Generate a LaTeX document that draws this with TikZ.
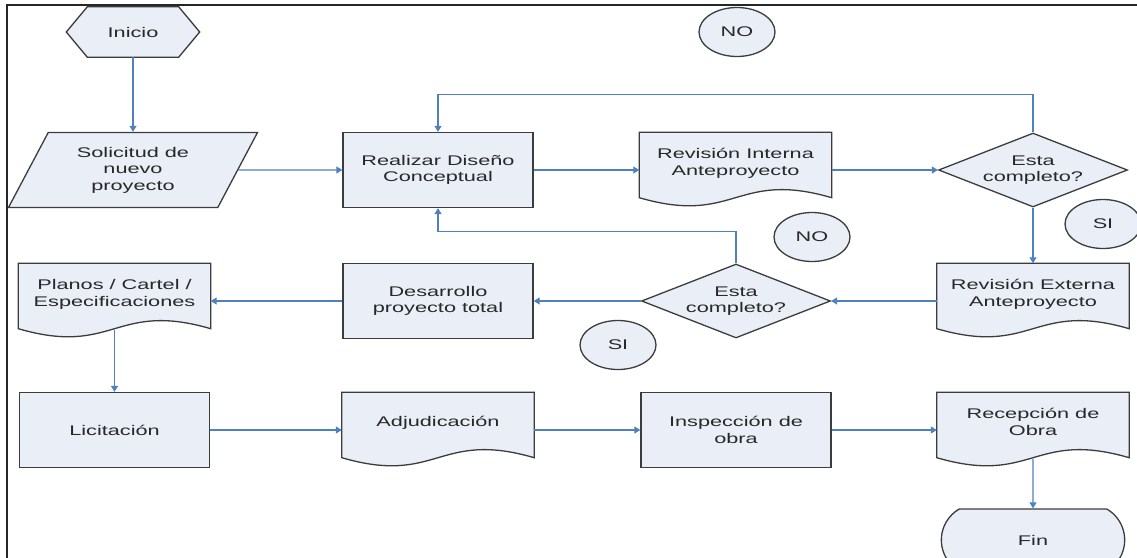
\documentclass[tikz,border=0pt]{standalone}
\usepackage{fontspec}
\setmainfont{Liberation Sans}[FakeStretch=1.55]
\usetikzlibrary{shapes.geometric,shapes.misc,arrows.meta,backgrounds}
\definecolor{boxfill}{RGB}{233,238,247}
\definecolor{boxline}{RGB}{60,60,60}
\definecolor{flowblue}{RGB}{79,129,189}
\definecolor{textgray}{RGB}{40,40,40}
\newcommand\docpath[1]{(#1.north west) -- (#1.north east) -- ([yshift=10pt]#1.south east)
  .. controls +(-96pt,28pt) and +(96pt,-28pt) .. ([yshift=10pt]#1.south west) -- cycle}
\newcommand\hexpath[1]{([xshift=21pt]#1.north west) -- ([xshift=-21pt]#1.north east) -- (#1.east)
  -- ([xshift=-21pt]#1.south east) -- ([xshift=21pt]#1.south west) -- (#1.west) -- cycle}
\begin{document}
\begin{tikzpicture}[x=1pt,y=-1pt,
    every node/.style={text=textgray,font=\fontsize{14}{16.5}\selectfont,align=center},
    shapeline/.style={draw=boxline,fill=boxfill,line width=1.3pt},
    box/.style={shapeline,minimum width=190pt,minimum height=75pt},
    doc/.style={minimum width=192pt,minimum height=75pt},
    startnode/.style={minimum width=133pt,minimum height=50pt},
    decision/.style={shapeline,diamond,aspect=2.5,inner sep=0pt,minimum width=189pt,minimum height=74pt},
    input/.style={shapeline,trapezium,trapezium left angle=53,trapezium right angle=127,
      trapezium stretches body,minimum width=249pt,minimum height=75pt},
    answer/.style={shapeline,ellipse,minimum width=76pt,minimum height=49pt},
    endnode/.style={shapeline,rounded rectangle,rounded rectangle arc length=120,
      minimum width=190pt,minimum height=62pt},
    flow/.style={draw=flowblue,line width=1.2pt,-{Triangle[length=6pt,width=7pt]}},
    frame/.style={line width=2pt,draw=black!85}]
  \useasboundingbox (0,0) rectangle (1137,557);
  \clip (0,0) rectangle (1137,557);
  \draw[frame] (7,560) -- (7,5) -- (1140,5);
  \path
    (133,32) node[startnode] (0) {Inicio}
    (133,170) node[input] (1) {Solicitud de\\nuevo\\proyecto}
    (438,170) node[box] (2) {Realizar Diseño\\Conceptual}
    (735.5,170) node[doc] (3) {Revisión Interna\\Anteproyecto\\\mbox{}}
    (1033,170) node[decision] (4) {Esta\\completo?}
    (1033,301) node[doc] (5) {Revisión Externa\\Anteproyecto\\\mbox{}}
    (736,301) node[decision] (6) {Esta\\completo?}
    (438,301) node[box] (7) {Desarrollo\\proyecto total}
    (114.5,301) node[doc] (8) {Planos / Cartel /\\Especificaciones\\\mbox{}}
    (114.5,430) node[box] (9) {Licitación}
    (438,430) node[doc] (10) {Adjudicación\\\mbox{}}
    (736,430) node[box] (11) {Inspección de\\obra}
    (1033,430) node[doc] (12) {Recepción de\\Obra\\\mbox{}}
    (1033,540) node[endnode] (13) {Fin}
    (737,32) node[answer] (14) {NO}
    (1103,224) node[answer] (15) {SI}
    (812,237) node[answer] (16) {NO}
    (618,345) node[answer] (17) {SI};
  \begin{scope}[on background layer]
    \draw[shapeline] \hexpath{0};
    \draw[shapeline] \docpath{3};
    \draw[shapeline] \docpath{5};
    \draw[shapeline] \docpath{8};
    \draw[shapeline] \docpath{10};
    \draw[shapeline] \docpath{12};
  \end{scope}
  \begin{scope}[flow]
    \draw (0) to (1);
    \draw (1) to (2);
    \draw (2) to (3);
    \draw (3) to (4);
    \draw (4) to (5);
    \draw (5) to (6);
    \draw (6) to (7);
    \draw (7) to (8);
    \draw ([yshift=9pt]8.south) to (9);
    \draw (9) to (10);
    \draw (10) to (11);
    \draw (11) to (12);
    \draw ([yshift=9pt]12.south) to (13);
    \draw (4.north) -- ++(0,-38) -| (2.north);
    \draw (6.north) -- ++(0,-32) -| (2.south);
  \end{scope}
\end{tikzpicture}
\end{document}
